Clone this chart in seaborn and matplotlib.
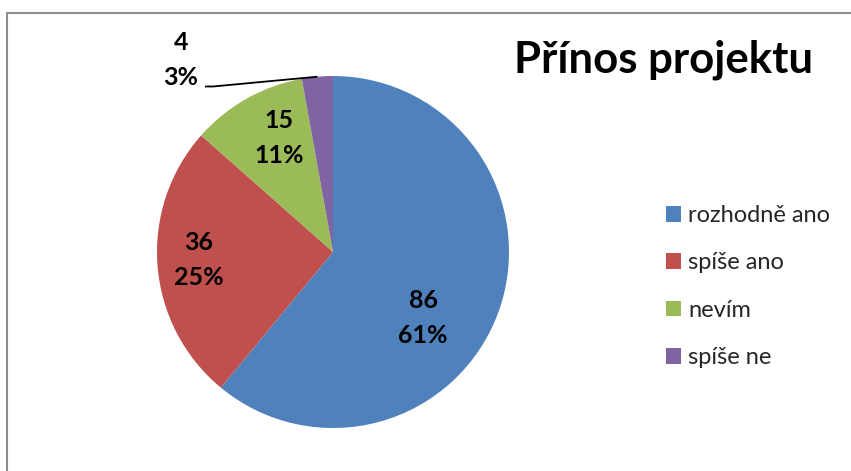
import matplotlib
matplotlib.use("Agg")
import matplotlib.pyplot as plt
import seaborn as sns
import numpy as np

# ---- data ----
categories = ["rozhodně ano", "spíše ano", "nevím", "spíše ne"]
counts = [86, 36, 15, 4]
percents = [61, 25, 11, 3]
title = "Přínos projektu"

colors = ["#4F81BD", "#C0504D", "#9BBB59", "#8064A2"]

sns.set_theme(style="white")
plt.rcParams["font.family"] = ["Lato", "DejaVu Sans"]

W, H = 851, 471
fig = plt.figure(figsize=(W / 100, H / 100), dpi=100)
fig.patch.set_facecolor("white")
ax = fig.add_axes([0, 0, 1, 1])

def Y(y):
    return H - y

cx, cy, R = 333, 252, 176
wedges, _ = ax.pie(counts, colors=colors, startangle=90, counterclock=False,
                   center=(cx, Y(cy)), radius=R,
                   wedgeprops=dict(linewidth=0))
ax.set_xlim(0, W)
ax.set_ylim(0, H)
ax.set_aspect("equal")
ax.axis("off")

# label layout (pixel positions of text block centres)
label_pos = [(423, 318), (199, 260), (279, 138), (181, 60)]
for (lx, ly), c, p in zip(label_pos, counts, percents):
    ax.text(lx, Y(ly), f"{c}\n{p}%", ha="center", va="center",
            fontsize=18, fontweight="bold", color="black", linespacing=1.65)

# leader line for the small slice
w = wedges[3]
mid = np.deg2rad((w.theta1 + w.theta2) / 2)
ex, ey = cx + R * np.cos(mid), Y(cy) + R * np.sin(mid)
ax.plot([205, 213, ex], [Y(86.5), Y(86.5), ey], color="black", lw=1.3,
        solid_capstyle="butt")

# title
ax.text(663, Y(73), title, ha="center", va="baseline", fontsize=31.5,
        fontweight="bold", color="black")

# legend
leg = ax.legend(wedges, categories, loc="upper left",
                bbox_to_anchor=(666 / W, Y(205) / H),
                bbox_transform=fig.transFigure,
                frameon=False, fontsize=17, handlelength=0.64,
                handleheight=0.64, handletextpad=0.3, labelspacing=1.12,
                borderpad=0, borderaxespad=0)

# chart border
ax.plot([7, W], [Y(12.5), Y(12.5)], color="#8c8c8c", lw=1.5, clip_on=False)
ax.plot([7, 7], [Y(12.5), 0], color="#8c8c8c", lw=1.5, clip_on=False)

fig.savefig("out.png", dpi=100)
